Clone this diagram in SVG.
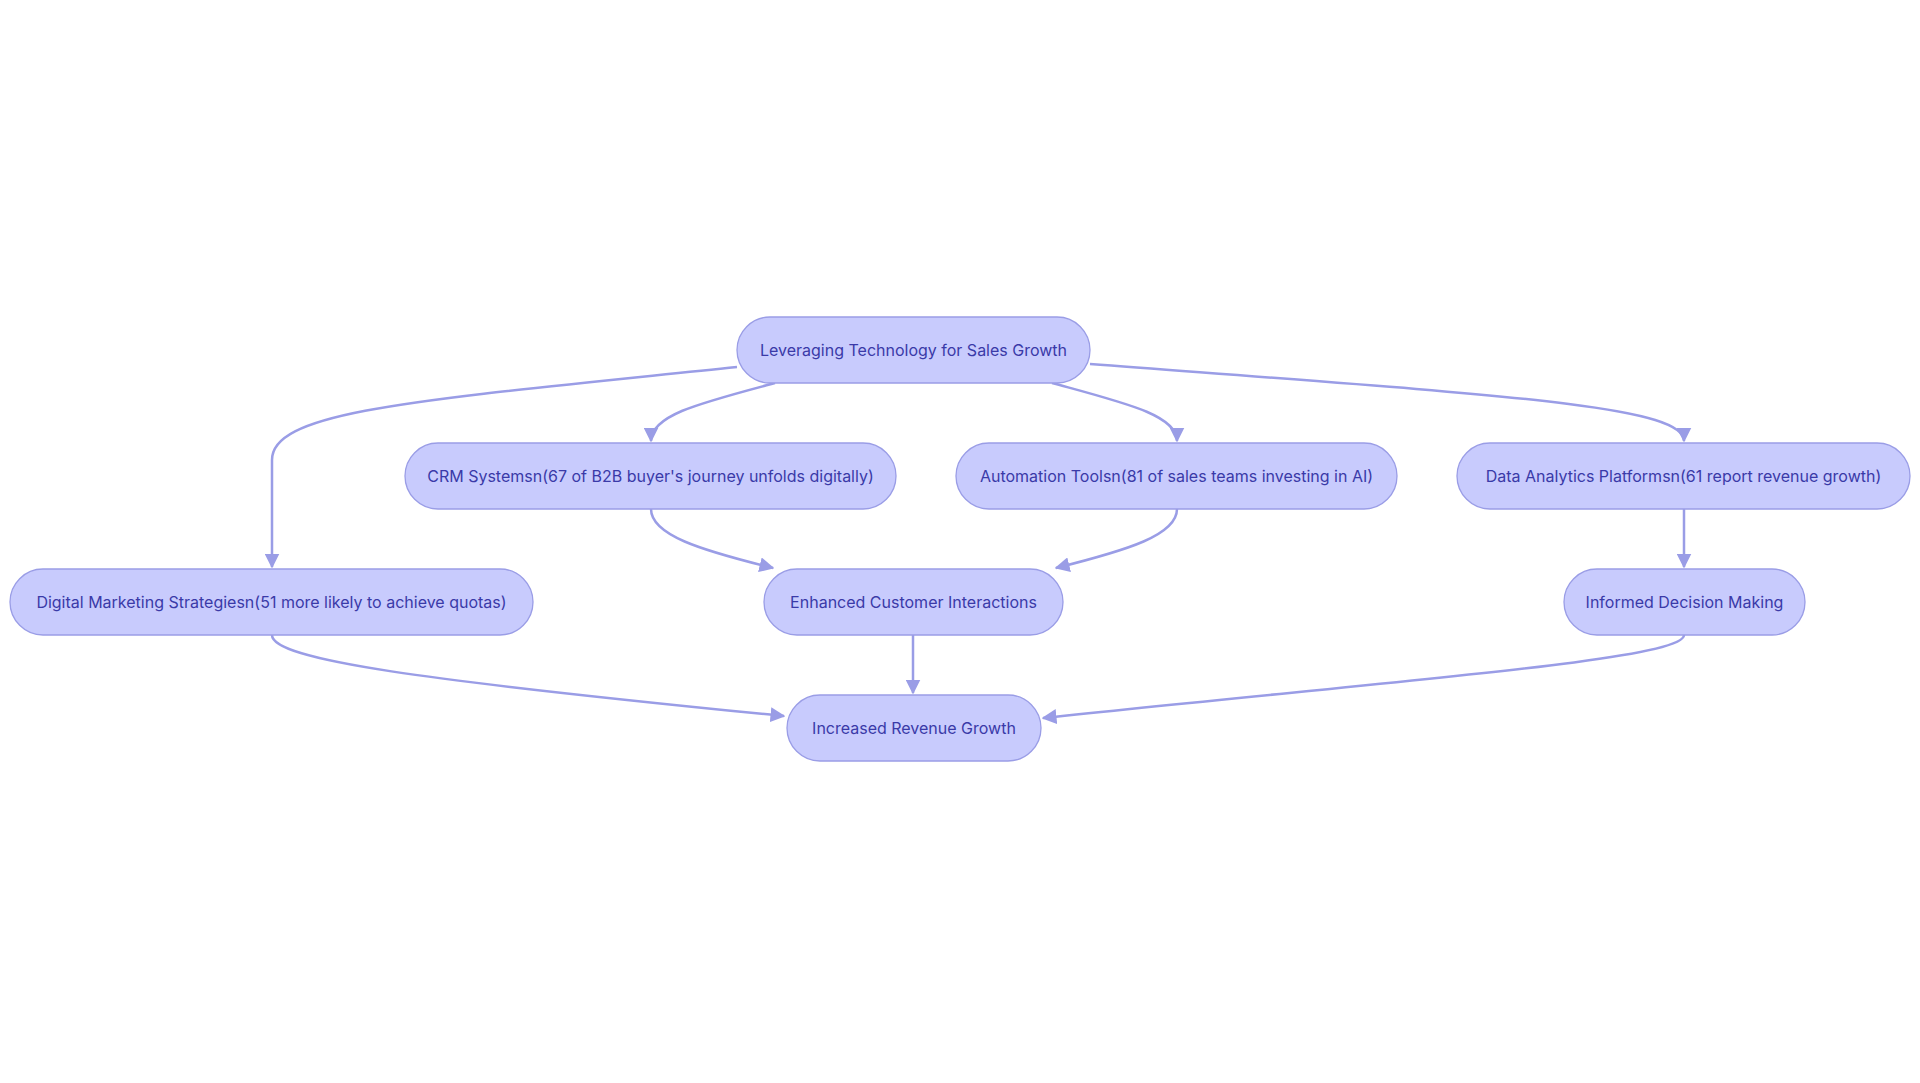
<svg xmlns="http://www.w3.org/2000/svg" width="1920" height="1083" viewBox="0 0 1920 1083">
<style>
.n rect{fill:#c8cbfd;stroke:#9a9de6;stroke-width:1.3}
.n text{font-family:Inter,"Liberation Sans",sans-serif;font-size:16px;fill:#3a3aa8;text-anchor:middle;dominant-baseline:central}
.e path{fill:none;stroke:#9a9de6;stroke-width:2.5;marker-end:url(#a)}
</style>
<defs><marker id="a" viewBox="0 0 10 10" refX="9" refY="5" markerWidth="6" markerHeight="6" orient="auto" markerUnits="strokeWidth"><path d="M0,0L10,5L0,10z" fill="#9a9de6"/></marker></defs>
<rect width="1920" height="1083" fill="#fff"/>
<g class="e">
<path d="M737,367 C420,400 272,410 272,460 L272,567"/>
<path d="M775,383 C700,403 651,415 651,441"/>
<path d="M1052,383 C1125,403 1177,415 1177,441"/>
<path d="M1090,364 C1500,395 1684,405 1684,441"/>
<path d="M1684,509 L1684,567"/>
<path d="M651,509 C651,535 700,550 773,568"/>
<path d="M1177,509 C1177,535 1128,550 1056,568"/>
<path d="M272,635 C272,660 420,680 784,716"/>
<path d="M913,635 L913,693"/>
<path d="M1684,635 C1684,660 1400,680 1043,718"/>
</g>
<g id="top" class="n"><rect x="737" y="317" width="353" height="66" rx="33"/><text x="913.5" y="350">Leveraging Technology for Sales Growth</text></g>
<g id="crm" class="n"><rect x="405" y="443" width="491" height="66" rx="33"/><text x="650.5" y="476">CRM Systemsn(67 of B2B buyer's journey unfolds digitally)</text></g>
<g id="auto" class="n"><rect x="956" y="443" width="441" height="66" rx="33"/><text x="1176.5" y="476">Automation Toolsn(81 of sales teams investing in AI)</text></g>
<g id="data" class="n"><rect x="1457" y="443" width="453" height="66" rx="33"/><text x="1683.5" y="476">Data Analytics Platformsn(61 report revenue growth)</text></g>
<g id="digital" class="n"><rect x="10" y="569" width="523" height="66" rx="33"/><text x="271.5" y="602">Digital Marketing Strategiesn(51 more likely to achieve quotas)</text></g>
<g id="enh" class="n"><rect x="764" y="569" width="299" height="66" rx="33"/><text x="913.5" y="602">Enhanced Customer Interactions</text></g>
<g id="inf" class="n"><rect x="1564" y="569" width="241" height="66" rx="33"/><text x="1684.5" y="602">Informed Decision Making</text></g>
<g id="rev" class="n"><rect x="787" y="695" width="254" height="66" rx="33"/><text x="914" y="728">Increased Revenue Growth</text></g>
</svg>
